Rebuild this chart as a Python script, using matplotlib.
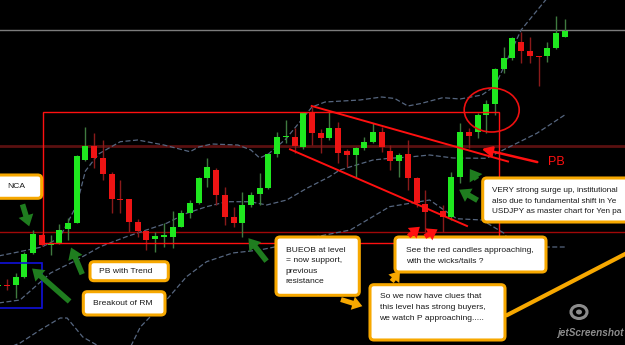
import matplotlib
matplotlib.use('Agg')
import matplotlib.pyplot as plt
import numpy as np
from matplotlib.patches import FancyBboxPatch, FancyArrowPatch, Ellipse, Rectangle

# candles, price given in chart rows (0 = top of screen, larger = lower price)
candle_idx = list(range(-2, 64))
opens = [285.5, 284.5, 285, 277, 253, 235, 245, 242.5, 229.3, 222.7, 160, 146, 158.3, 174.3, 198.5, 199.3,
         222.3, 231, 239.3, 236, 236.7, 226.7, 213.3, 203.3, 177.7, 170, 195, 217.3, 222.7, 205, 194.3, 187.5,
         154, 136, 136.7, 146.5, 112.3, 132.7, 137.7, 127.7, 151, 155, 148.3, 141.7, 131.7, 150.7, 161, 154.3,
         178.3, 203.5, np.nan, 210.7, 216.7, 176.7, 131.7, 131.7, 115, 104, 69.3, 58.3, 41.7, 51, 55.5, 56, 48.3, 36.7]
highs = [283, 279, 273, 251.5, 229.5, 234, 235, 223.5, 218.3, 155, 127, 133, 140, 171.7, 180, 199,
         219.3, 230, 231.7, 223, 211, 210, 200, 176.7, 158.3, 168.3, 186.7, 206.7, 191.7, 191.7, 173.3, 153.5,
         131.7, 120, 128, 111.7, 106.7, 129, 111.7, 121.7, 149, 146.7, 136.7, 123.3, 126.7, 145, 153.3, 140,
         176.7, 190, np.nan, 205, 171.7, 123.3, 128.3, 113.3, 100, 68.3, 46.7, 36.7, 32.3, 36.7, 55.5, 41.7, 16, 19.3]
lows = [287, 290, 298, 277.5, 254, 246, 255, 243.5, 240, 223, 161, 168, 180, 213, 213, 231.7,
        236.7, 250, 251.7, 246.7, 248, 227, 218, 204, 186.7, 205, 225, 226.7, 236.7, 206.7, 205, 188.5,
        156.7, 143.3, 153, 149.3, 145, 153.3, 140, 162.7, 166.7, 176.7, 150, 143.3, 151.7, 170, 176.7, 190,
        206.7, 233, np.nan, 232, 220, 182.7, 148.3, 138.3, 133.3, 115, 73.3, 60, 63.3, 63.3, 86, 61.7, 49.3, 37.3]
closes = [284.5, 285.5, 277, 254, 233.5, 245, 243.3, 229.5, 222.7, 156, 146, 158.3, 174.3, 199, 199.5, 221.7,
          231, 240, 236, 235.3, 226.7, 213.3, 203.3, 178.3, 166.7, 195, 217.3, 222.7, 205, 195, 187.7, 154.3,
          137.3, 135.5, 145.7, 112.3, 132.7, 137.7, 128.3, 152.7, 155, 148.3, 141.7, 131.7, 147.3, 161, 155, 178.3,
          203.3, 211.5, np.nan, 217, 176.7, 131.7, 135.7, 115, 104, 69.3, 58.3, 38.3, 50.7, 55.7, 56.5, 48.3, 33.3, 30.7]

# bollinger bands (candle index, row)
upper_x = [-2, 0, 3, 5, 6, 7, 8, 9.5, 12, 14, 17, 20, 21, 22.5, 25.5, 27, 28, 29, 31, 32.5, 34, 35.5,
           39.5, 42, 43.5, 45, 46.5, 49, 51, 53.5, 55, 58, 61]
upper_y = [256, 252.5, 247, 238, 222, 205, 171, 154, 141.7, 140, 145, 151.7, 147, 144, 145, 150, 158, 154,
           139, 123, 107, 102, 100, 97, 98.5, 106, 103.5, 97.7, 99, 95, 86, 30, -2]
mid_x = [-2, 0.5, 4, 7, 9.7, 12.7, 15, 17.3, 19.6, 21.9, 24.2, 26.9, 28.8, 31.1, 33.4, 36, 37.2, 39.1, 41,
         42.9, 45.2, 47.5, 50.2, 54, 56.7, 59.8, 63]
mid_y = [303, 300, 273, 260, 246.7, 236.7, 230, 223.3, 213.3, 206.7, 201.7, 201.7, 205, 200, 188.3, 176.7,
         170, 165, 160, 158.3, 157, 155, 158, 158.3, 146.7, 133.3, 115]
lower_x = [-2, 0.5, 2.8, 5.1, 5.9, 7.7, 9.3, 10.3, 13, 14.3, 17.3, 19.6, 21.9, 24.9, 28, 29.9, 32.6, 38.4,
           42.9, 47.5, 50.6, 53.5, 56, 57.2, 63]
lower_y = [352, 343, 330, 318, 318, 337, 345, 352, 350, 327, 300, 276.7, 261.7, 253, 250, 246.7, 240, 230,
           206.7, 200, 218.7, 220, 233, 247, 247]

fig = plt.figure(figsize=(6.25, 3.45), dpi=100, facecolor='black')
ax = fig.add_axes([0, 0, 1, 1])
ax.set_facecolor('black')
ax.set_xlim((0 - 15.7) / 8.714, (625 - 15.7) / 8.714)
ax.set_ylim(345, 0)
ax.axis('off')

# horizontal levels
ax.axhline(30, color='#7c7c7c', lw=1, zorder=1)
ax.axhline(146, color='#5a1010', lw=2, zorder=1)
ax.axhline(232, color='#a00808', lw=1, zorder=1)

band_style = dict(color='#56667f', lw=0.9, ls=(0, (4, 2)), zorder=2)
ax.plot(upper_x, upper_y, **band_style)
ax.plot(mid_x, mid_y, **band_style)
ax.plot(lower_x, lower_y, **band_style)

for k, o, h, l, c in zip(candle_idx, opens, highs, lows, closes):
    if np.isnan(o):
        continue
    up = c <= o
    body = '#1fe81f' if up else '#ee1414'
    wick = '#3f7a3f' if up else '#8a1a1a'
    ax.vlines(k, h, l, color=wick, lw=1, zorder=3)
    top = min(o, c)
    ht = max(abs(o - c), 1.5)
    ax.bar(k, ht, bottom=top, width=0.68, color=body, zorder=4)

# overlay for the drawn annotations (screen coordinates)
ov = fig.add_axes([0, 0, 1, 1])
ov.set_xlim(0, 625)
ov.set_ylim(345, 0)
ov.axis('off')
ov.patch.set_alpha(0)

ov.add_patch(Rectangle((42.7, 111.7), 456.6, 131.6, fill=False, ec='#ff1010', lw=1, zorder=3))
ov.add_patch(Rectangle((-5, 263.3), 47.3, 45, fill=False, ec='#1010dc', lw=1.2, zorder=3))
ov.plot([311.7, 508], [106, 161.5], color='#ff1010', lw=1.4, zorder=3)
ov.plot([290, 467], [149.3, 226], color='#ff1010', lw=1.4, zorder=3)
ov.add_patch(Ellipse((491.7, 110), 55, 44, fill=False, ec='#ee1010', lw=1.2, zorder=3))

ov.add_patch(FancyArrowPatch((540, 162.7), (479, 148.3), arrowstyle='-|>,head_length=6,head_width=3',
                             color='#ff1010', lw=1.8, zorder=4))
ov.text(548, 162, 'PB', color='#ff1010', fontsize=9, family='Liberation Sans', va='center', zorder=6)


def arrow(tail, head, color, width):
    ov.add_patch(FancyArrowPatch(tail, head, arrowstyle='simple,head_width=2.2,head_length=1.6,tail_width=0.8',
                                 mutation_scale=width, color=color, lw=0, zorder=6))


green = '#1f7d1f'
arrow((21.7, 201.7), (30, 229), green, 5)
arrow((71.7, 303.3), (30, 266.7), green, 5)
arrow((83.3, 276.7), (70, 245), green, 5)
arrow((268.3, 263.3), (246.7, 236), green, 5)
arrow((480, 201.7), (456.7, 188.3), green, 5)
arrow((478.3, 181.7), (468.3, 166.7), green, 5)

arrow((406.5, 238), (422, 225), '#ff1010', 4.5)
arrow((422.5, 238), (440, 228), '#ff1010', 4.5)

orange = '#f7a800'
arrow((338.3, 298.7), (365, 307), orange, 4.5)
arrow((390, 283.7), (401.7, 268.7), orange, 4.5)
ov.plot([506.7, 628], [315.3, 252.5], color=orange, lw=3, solid_capstyle='round', zorder=4)


def callout(x, y, w, h, lines, tx, ty, step=10.5, size=6.1):
    ov.add_patch(FancyBboxPatch((x, y), w, h, boxstyle='round,pad=0,rounding_size=4', fc='white',
                                ec=orange, lw=2.2, zorder=5))
    for i, s in enumerate(lines):
        ov.text(tx, ty + i * step, s, fontsize=size, family='Liberation Sans', color='#1a1a1a',
                va='center', ha='left', zorder=7)


callout(-6, 175, 47.7, 23.3, ['NCA'], 7, 187)
callout(90, 261.7, 78.3, 19, ['PB with Trend'], 99, 271.5)
callout(83.3, 291.7, 81.7, 23.3, ['Breakout of RM'], 92.7, 303.5)
callout(276, 237, 83.3, 58.3, ['BUEOB at level', '= now support,', 'previous', 'resistance'], 285.7, 250.3, 10.4)
callout(395, 237, 151, 35, ['See the red candles approaching,', 'with the wicks/tails ?'], 405.7, 251, 10.4)
callout(370, 284.7, 135, 55.3, ['So we now have clues that', 'this level has strong buyers,',
                                'we watch P approaching.....'], 379.5, 297, 10.5)
# this box runs off the right edge of the screenshot, so only the visible part of its text is kept
callout(482.7, 178, 160, 44, ['VERY strong surge up, institutional', 'also due to fundamental shift in Ye',
                              'USDJPY as master chart for Yen pa'], 491.7, 190.3, 10.8, 5.85)

# screenshot tool watermark
ov.add_patch(Ellipse((579, 312), 16, 13, fill=False, ec='#8c8c8c', lw=2.2, zorder=6))
ov.add_patch(Ellipse((579, 312), 6, 5, fc='#8c8c8c', ec='none', zorder=6))
ov.text(590, 333, 'jetScreenshot', fontsize=7.2, family='Liberation Sans', style='italic', weight='bold',
        color='#8c8c8c', ha='center', va='center', zorder=6)

fig.savefig('out.png', dpi=100, facecolor='black')
